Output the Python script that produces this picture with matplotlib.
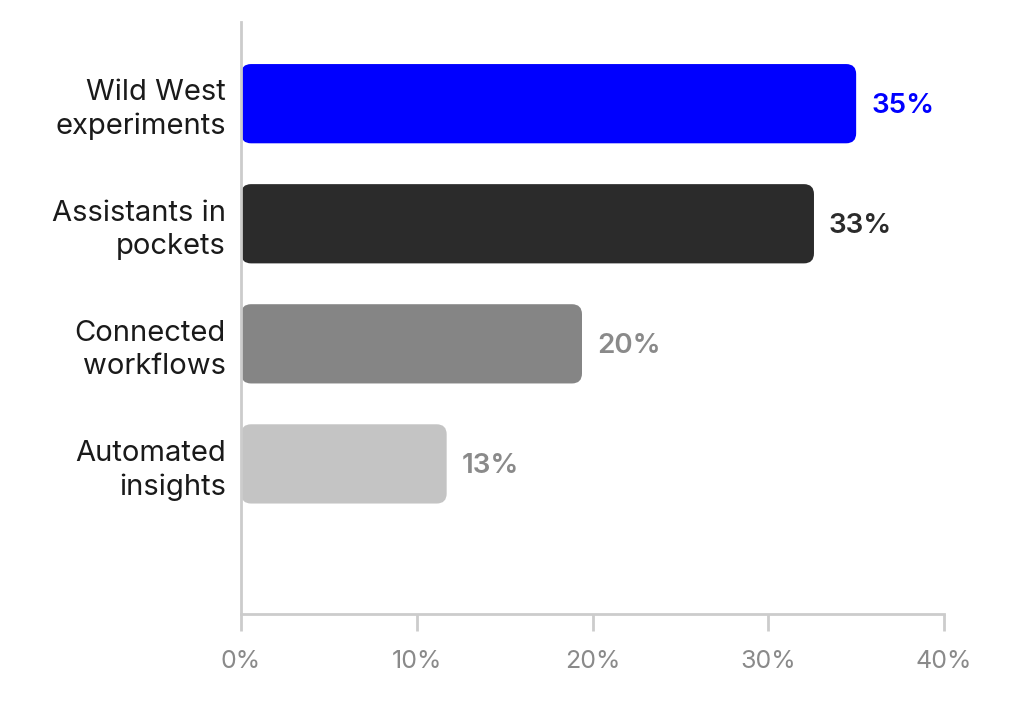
import matplotlib
matplotlib.use('Agg')
import matplotlib.pyplot as plt
from matplotlib.patches import FancyBboxPatch

# data
categories = ['Wild West\nexperiments', 'Assistants in\npockets',
              'Connected\nworkflows', 'Automated\ninsights']
values = [35.0, 32.6, 19.4, 11.7]
value_labels = ['35%', '33%', '20%', '13%']
bar_colors = ['#0000ff', '#2b2b2b', '#858585', '#c4c4c4']
label_colors = ['#0000ff', '#2b2b2b', '#8a8a8a', '#8a8a8a']
xticks = [0, 10, 20, 30, 40]

plt.rcParams['font.family'] = ['Inter', 'DejaVu Sans']

fig = plt.figure(figsize=(10.24, 7.06), dpi=100)
ax = fig.add_axes([0.2354, 0.1303, 0.6865, 0.8385])

ypos = list(range(len(categories)))
bars = ax.barh(ypos, values, height=0.66, color=bar_colors)
ax.set_xlim(0, 40)
ax.set_ylim(4.25, -0.68)

# swap plain rectangles for rounded ones
x_px = 0.6865 * 1024 / 40
y_px = 0.8385 * 706 / (4.25 + 0.68)
for rect, col in zip(bars.patches, bar_colors):
    x, y = rect.get_x(), rect.get_y()
    w, h = rect.get_width(), rect.get_height()
    rect.remove()
    r = 10 / x_px
    ax.add_patch(FancyBboxPatch((x, y), w, h,
                                boxstyle=f'round,pad=0,rounding_size={r}',
                                mutation_aspect=x_px / y_px,
                                facecolor=col, edgecolor='none'))

for y, v, lab, c in zip(ypos, values, value_labels, label_colors):
    ax.text(v + 15 / x_px, y + 0.02, lab, va='center', ha='left',
            fontsize=20, fontweight='semibold', color=c)

ax.set_yticks(ypos)
ax.set_yticklabels(categories, fontsize=21, color='#1a1a1a',
                   linespacing=1.3, ha='right')
ax.tick_params(axis='y', length=0, pad=11)

ax.set_xticks(xticks)
ax.set_xticklabels([f'{t}%' for t in xticks], fontsize=18, color='#8a8a8a')
ax.tick_params(axis='x', length=12, width=2, color='#cccccc', pad=14)

for s in ['top', 'right']:
    ax.spines[s].set_visible(False)
for s in ['left', 'bottom']:
    ax.spines[s].set_color('#cccccc')
    ax.spines[s].set_linewidth(2)

fig.savefig('out.png', dpi=100, facecolor='white')
